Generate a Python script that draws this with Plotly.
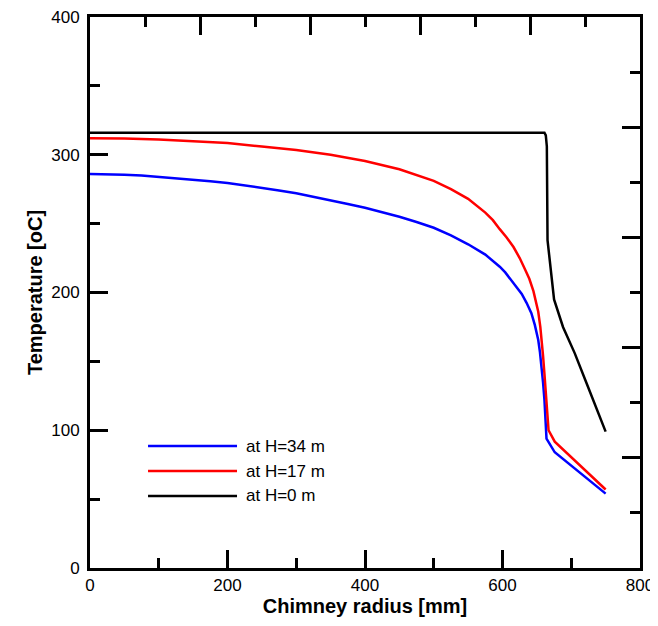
import plotly.graph_objects as go

# ---------------- data ----------------
r_34 = [0, 25, 50, 75, 100, 125, 150, 175, 200, 225, 250, 275, 300, 325, 350, 375, 400, 425, 450, 475, 500,
        525, 550, 575, 585, 596, 604, 611, 620, 628, 635, 642, 647, 652, 654.5, 657, 659, 661, 662.5, 664, 676, 750]
t_34 = [286, 285.9, 285.5, 284.9, 284, 283.1, 282, 280.8, 279.5, 277.8, 276, 274.1, 272, 269.6, 267, 264.3,
        261.5, 258.3, 255, 251.2, 247, 241.5, 235, 227.5, 223.5, 218.7, 214.6, 210, 204.8, 199, 192.5, 185,
        176.5, 165.5, 156.5, 146, 134.5, 122, 108, 94, 84, 54]

r_17 = [0, 50, 100, 150, 200, 250, 300, 350, 400, 450, 500, 525, 550, 575, 586, 596, 606, 616, 625, 633,
        639, 645, 649, 652, 655, 657, 659, 661, 664, 667, 676, 750]
t_17 = [312, 311.8, 311, 310, 308.5, 306, 303.5, 300, 295.5, 289.5, 281, 275, 268, 258, 252.5, 246, 240,
        233, 225, 216.5, 210, 201, 193.5, 186, 175, 166, 154, 141, 117, 100, 91.7, 57]

r_0 = [0, 661, 663, 664.5, 665.5, 675, 688, 705, 722, 750]
t_0 = [316, 316, 314, 306, 238, 195, 175, 156, 134.5, 99]

names = ["at H=34 m", "at H=17 m", "at H=0 m"]
colors = ["#0000ff", "#ff0000", "#000000"]

x_ticks = [0, 200, 400, 600, 800]
y_ticks = [0, 100, 200, 300, 400]

FONT = "Liberation Sans, Arial, sans-serif"

fig = go.Figure()
for rr, tt, nm, c in zip([r_34, r_17, r_0], [t_34, t_17, t_0], names, colors):
    fig.add_trace(go.Scatter(x=rr, y=tt, mode="lines", name=nm,
                             line=dict(color=c, width=2.5), showlegend=False))

# empty trace to realise the secondary (top / right) axes
fig.add_trace(go.Scatter(x=[], y=[], xaxis="x2", yaxis="y2", showlegend=False, hoverinfo="skip"))

axis_common = dict(showline=True, linecolor="black", linewidth=3, ticks="inside",
                   tickcolor="black", tickwidth=3, ticklen=18, showgrid=False,
                   zeroline=False, mirror=False)

# the page body has an 8px margin, so the figure is 8px smaller than the window
fig.update_layout(
    width=650, height=618,
    margin=dict(l=82, r=18, t=9, b=58, autoexpand=False),
    paper_bgcolor="white", plot_bgcolor="white",
    font=dict(family=FONT, size=17, color="black"),
    xaxis=dict(range=[0, 800], tickvals=x_ticks, ticktext=[str(v) for v in x_ticks],
               minor=dict(dtick=100, ticklen=10, tickwidth=3, tickcolor="black", ticks="inside"),
               title=dict(text="<b>Chimney radius [mm]</b>", font=dict(size=20, family=FONT), standoff=4),
               ticklabelstandoff=0, ticklabeloverflow="allow", automargin=False, **axis_common),
    yaxis=dict(range=[0, 400], tickvals=y_ticks, ticktext=[str(v) for v in y_ticks],
               minor=dict(dtick=50, ticklen=10, tickwidth=3, tickcolor="black", ticks="inside"),
               title=dict(text="<b>Temperature [oC]</b>", font=dict(size=20, family=FONT), standoff=4),
               ticklabelstandoff=4, ticklabeloverflow="allow", automargin=False, **axis_common),
    xaxis2=dict(range=[0, 800], overlaying="x", side="top", anchor="y", dtick=160,
                showticklabels=False,
                minor=dict(dtick=80, ticklen=10, tickwidth=3, tickcolor="black", ticks="inside"),
                **axis_common),
    yaxis2=dict(range=[0, 400], overlaying="y", side="right", anchor="x", dtick=80,
                showticklabels=False,
                minor=dict(dtick=40, ticklen=10, tickwidth=3, tickcolor="black", ticks="inside"),
                **axis_common),
)

# manual legend (long sample lines as in the reference)
leg_x0, leg_x1, leg_tx = 0.1055, 0.2673, 0.28
leg_y = [0.2214, 0.176, 0.1307]
for nm, c, yy in zip(names, colors, leg_y):
    fig.add_shape(type="line", xref="paper", yref="paper", x0=leg_x0, x1=leg_x1, y0=yy, y1=yy,
                  line=dict(color=c, width=2.5))
    fig.add_annotation(xref="paper", yref="paper", x=leg_tx, y=yy, text=nm, showarrow=False,
                       xanchor="left", yanchor="middle", font=dict(size=17, family=FONT, color="black"))

fig.write_html("out.html")
